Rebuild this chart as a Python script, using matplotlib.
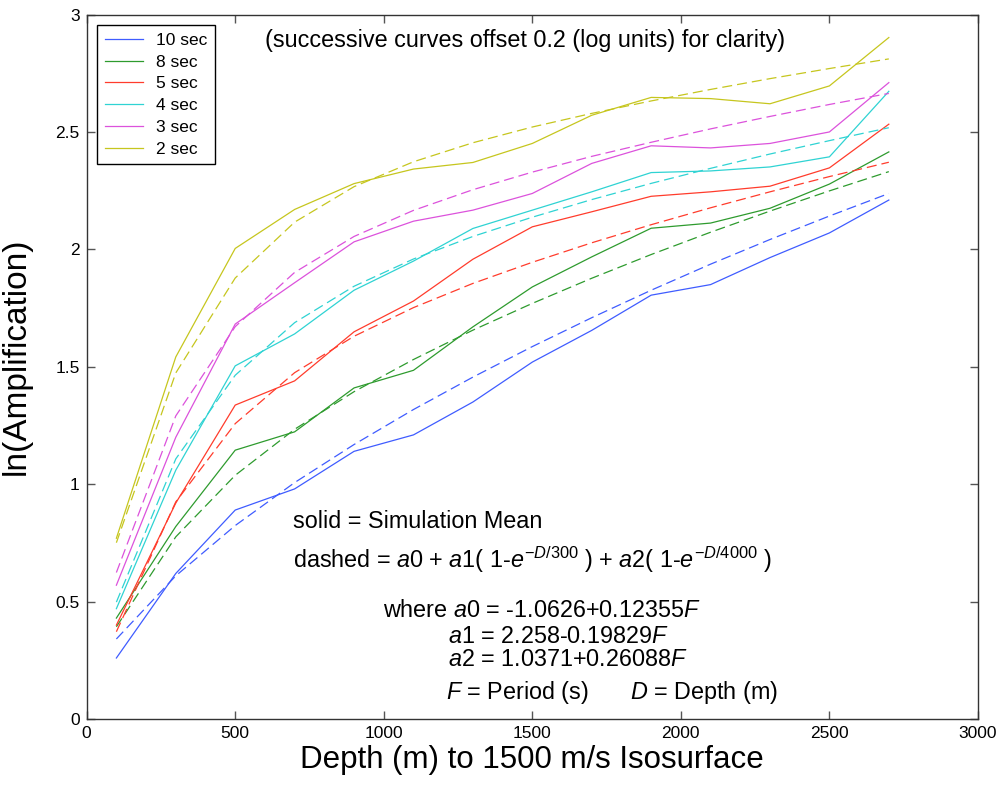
import matplotlib
matplotlib.use('Agg')
import matplotlib.pyplot as plt

plt.rcParams['font.family'] = ['Liberation Sans', 'DejaVu Sans']
plt.rcParams['mathtext.fontset'] = 'custom'
plt.rcParams['mathtext.rm'] = 'Liberation Sans'
plt.rcParams['mathtext.it'] = 'Liberation Sans:italic'

depth = [100, 300, 500, 700, 900, 1100, 1300, 1500, 1700, 1900, 2100, 2300, 2500, 2700]

periods = ['10 sec', '8 sec', '5 sec', '4 sec', '3 sec', '2 sec']
colors = ['#3f5cff', '#2e9b2e', '#ff3c2c', '#2fd3d3', '#dc52dc', '#c6c61e']

# simulation means (solid)
sim_10 = [0.26, 0.62, 0.89, 0.98, 1.14, 1.21, 1.35, 1.52, 1.655, 1.805, 1.85, 1.965, 2.07, 2.21]
sim_8 = [0.43, 0.82, 1.145, 1.223, 1.41, 1.485, 1.67, 1.84, 1.968, 2.09, 2.112, 2.175, 2.278, 2.415]
sim_5 = [0.40, 0.92, 1.337, 1.44, 1.649, 1.78, 1.958, 2.096, 2.16, 2.226, 2.245, 2.269, 2.347, 2.533]
sim_4 = [0.47, 1.06, 1.504, 1.64, 1.826, 1.95, 2.089, 2.167, 2.245, 2.327, 2.334, 2.351, 2.394, 2.673]
sim_3 = [0.57, 1.20, 1.682, 1.858, 2.032, 2.12, 2.167, 2.238, 2.366, 2.441, 2.432, 2.451, 2.50, 2.71]
sim_2 = [0.77, 1.542, 2.004, 2.17, 2.28, 2.342, 2.37, 2.451, 2.571, 2.647, 2.642, 2.62, 2.696, 2.902]

# fitted model (dashed), read at the same depths
fit_10 = [0.341, 0.610, 0.824, 1.007, 1.169, 1.318, 1.456, 1.586, 1.709, 1.826, 1.937, 2.042, 2.142, 2.238]
fit_8 = [0.393, 0.776, 1.038, 1.234, 1.394, 1.531, 1.656, 1.770, 1.877, 1.978, 2.073, 2.163, 2.249, 2.331]
fit_5 = [0.372, 0.925, 1.258, 1.475, 1.630, 1.752, 1.855, 1.945, 2.028, 2.105, 2.177, 2.245, 2.310, 2.371]
fit_4 = [0.498, 1.108, 1.464, 1.688, 1.843, 1.959, 2.055, 2.137, 2.212, 2.281, 2.345, 2.406, 2.463, 2.518]
fit_3 = [0.624, 1.291, 1.671, 1.902, 2.055, 2.166, 2.254, 2.329, 2.396, 2.456, 2.513, 2.566, 2.617, 2.664]
fit_2 = [0.751, 1.474, 1.878, 2.116, 2.267, 2.373, 2.454, 2.521, 2.579, 2.632, 2.681, 2.727, 2.770, 2.811]

sims = [sim_10, sim_8, sim_5, sim_4, sim_3, sim_2]
fits = [fit_10, fit_8, fit_5, fit_4, fit_3, fit_2]

fig = plt.figure(figsize=(10.02, 7.85), dpi=100)
ax = fig.add_axes([0.0865, 0.084, 0.8895, 0.8975])

for lab, c, s, f in zip(periods, colors, sims, fits):
    ax.plot(depth, s, color=c, linewidth=0.9, label=lab)
    ax.plot(depth, f, color=c, linewidth=0.9, linestyle=(0, (8, 4)))

ax.set_xlim(0, 3000)
ax.set_ylim(0, 3)
ax.set_xticks(range(0, 3001, 500))
ax.set_yticks([0, 0.5, 1, 1.5, 2, 2.5, 3])
ax.set_yticklabels(['0', '0.5', '1', '1.5', '2', '2.5', '3'])
ax.tick_params('both', direction='in', length=6, width=1, top=True, right=True,
               labelsize=12.5, pad=5, color='#555555')
for sp in ax.spines.values():
    sp.set_linewidth(1.0)
    sp.set_color('#333333')

ax.set_xlabel('Depth (m) to 1500 m/s Isosurface', fontsize=22.5, labelpad=3)
ax.set_ylabel('ln(Amplification)', fontsize=24)
ax.yaxis.set_label_coords(-0.062, 0.515)

leg = ax.legend(loc='upper left', fontsize=12.5, handlelength=2.2, handletextpad=0.75,
                labelspacing=0.38, borderpad=0.45, borderaxespad=0.6, fancybox=False,
                edgecolor='black', framealpha=1)
leg.get_frame().set_linewidth(1.0)

fs = 16.8
ax.text(1475, 2.89, '(successive curves offset 0.2 (log units) for clarity)',
        fontsize=fs, ha='center', va='center')
ax.text(694, 0.843, 'solid = Simulation Mean', fontsize=fs, va='center')
ax.text(694, 0.677,
        r'dashed = $\mathit{a0}$ + $\mathit{a1}$( 1-$\mathit{e}^{\mathrm{-}\mathit{D}\mathrm{/300}}$ ) + '
        r'$\mathit{a2}$( 1-$\mathit{e}^{\mathrm{-}\mathit{D}\mathrm{/4000}}$ )',
        fontsize=fs, va='center')
ax.text(997, 0.464, r'where $\mathit{a0}$ = -1.0626+0.12355$\mathit{F}$', fontsize=fs, va='center')
ax.text(1216, 0.353, r'$\mathit{a1}$ = 2.258-0.19829$\mathit{F}$', fontsize=fs, va='center')
ax.text(1216, 0.255, r'$\mathit{a2}$ = 1.0371+0.26088$\mathit{F}$', fontsize=fs, va='center')
ax.text(1210, 0.115, r'$\mathit{F}$ = Period (s)', fontsize=fs, va='center')
ax.text(1830, 0.115, r'$\mathit{D}$ = Depth (m)', fontsize=fs, va='center')

fig.savefig('out.png', dpi=100)
